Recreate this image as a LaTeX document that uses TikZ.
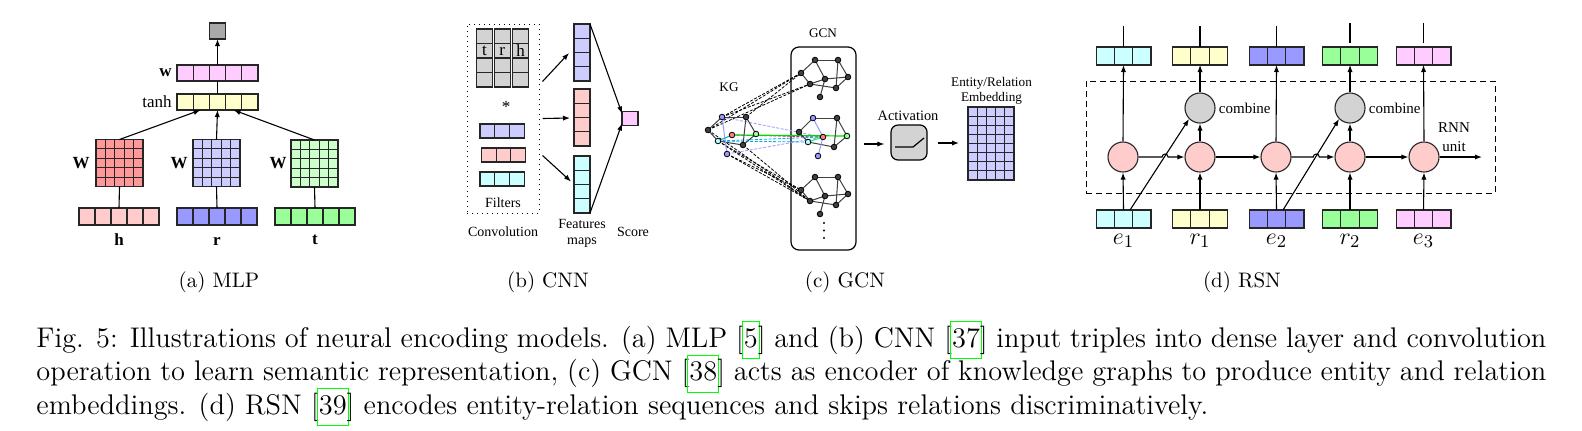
\documentclass[tikz,border=0pt]{standalone}
\usepackage{fontspec}
\usetikzlibrary{arrows.meta,calc}
\newfontfamily\tms{Liberation Serif}
\definecolor{outgray}{HTML}{A9A9A9}
\definecolor{pinkw}{HTML}{FFCCFF}
\definecolor{yell}{HTML}{FFFFCC}
\definecolor{redm}{HTML}{FF9999}
\definecolor{bluem}{HTML}{CCCCFF}
\definecolor{greenm}{HTML}{CCFFCC}
\definecolor{pinkh}{HTML}{FFCCCC}
\definecolor{bluer}{HTML}{9999FF}
\definecolor{greent}{HTML}{99FF99}
\definecolor{cyanc}{HTML}{CCFFFF}
\definecolor{lgray}{HTML}{D3D3D3}
\definecolor{gdark}{HTML}{404040}
\definecolor{gblue}{HTML}{9999FF}
\definecolor{gred}{HTML}{FF8080}
\definecolor{ggreen}{HTML}{99FF99}
\definecolor{gcyan}{HTML}{AFFFFF}
\definecolor{lkgreen}{HTML}{00FF00}
\newcommand{\lk}[1]{{\setlength\fboxsep{0.6pt}\setlength\fboxrule{0.45pt}\color{lkgreen}\kern-1.05pt\fbox{\color{black}\strut #1}\kern-1.05pt}}
\newcommand{\cellgrid}[8]{%
  \node[cellbox, fill=#8, minimum width=#4*#6*0.5pt, minimum height=#5*#7*0.5pt] (#1) at (#2,#3) {};
  \foreach \i in {1,...,#4} \draw[cellline] ($(#1.north west)+(\i*#6,0)$) -- ($(#1.south west)+(\i*#6,0)$);
  \foreach \j in {1,...,#5} \draw[cellline] ($(#1.north west)+(0,\j*#7)$) -- ($(#1.north east)+(0,\j*#7)$);
}
\tikzset{
  cellbox/.style={draw=black!85, line width=0.55pt, inner sep=0, outer sep=0, rectangle},
  cellline/.style={draw=black!85, line width=0.55pt},
  arr/.style={-{Latex[length=3.5pt,width=2.6pt]}, line width=0.55pt},
  ln/.style={line width=0.55pt},
  mlpl/.style={font=\tms\fontsize{8.5}{9}\selectfont, inner sep=0},
  cnnl/.style={font=\tms\fontsize{7}{8}\selectfont, inner sep=0, align=center},
  gl/.style={font=\tms\fontsize{6.6}{7.4}\selectfont, inner sep=0, align=center},
  rl/.style={font=\tms\fontsize{7.5}{9.5}\selectfont, inner sep=0, align=center},
  ml/.style={font=\fontsize{13}{13}\selectfont, inner sep=0},
  subcap/.style={font=\fontsize{10.5}{12}\selectfont, inner sep=0},
  capt/.style={font=\fontsize{14.2}{16.75}\selectfont, inner sep=0},
  gnode/.style={circle, draw=black, line width=0.4pt, fill=gdark, inner sep=0, minimum size=2.8pt},
  gedge/.style={draw=black!75, line width=0.5pt},
  kgdash/.style={dashed, dash pattern=on 1.5pt off 0.8pt, line width=0.4pt},
  rnnc/.style={circle, draw=black!85, line width=0.55pt, fill=pinkh, inner sep=0, minimum size=15pt},
  combc/.style={circle, draw=black!85, line width=0.55pt, fill=lgray, inner sep=0, minimum size=15pt}
}
\begin{document}
\begin{tikzpicture}[x=0.5pt,y=-0.5pt]
\useasboundingbox (0,0) rectangle (1582,430);

% ================= (a) MLP =================
\cellgrid{out}{217.5}{31}{1}{1}{16}{16}{outgray}
\cellgrid{wrow}{217.5}{73}{5}{1}{16.2}{16}{pinkw}
\cellgrid{tanhrow}{217.5}{102}{5}{1}{16.2}{16}{yell}
\cellgrid{Wr}{119.5}{163}{5}{5}{9.4}{9.4}{redm}
\cellgrid{Wb}{216.5}{163}{5}{5}{9.4}{9.4}{bluem}
\cellgrid{Wg}{314.5}{163.5}{5}{5}{9.4}{9.4}{greenm}
\cellgrid{hrow}{119}{216.5}{5}{1}{16}{17}{pinkh}
\cellgrid{rrow}{217}{216.5}{5}{1}{16}{17}{bluer}
\cellgrid{trow}{315}{216.5}{5}{1}{16}{17}{greent}
\node[mlpl, anchor=east] (wlab) at (172,73) {\bfseries w};
\node[mlpl, anchor=east] (tanhlab) at (172,102) {tanh};
\node[mlpl, anchor=east] (Wrlab) at (90,163) {\bfseries W};
\node[mlpl, anchor=east] (Wblab) at (188,163) {\bfseries W};
\node[mlpl, anchor=east] (Wglab) at (287,163) {\bfseries W};
\node[mlpl] (hlab) at (119,240) {\bfseries h};
\node[mlpl] (rlab) at (217,241) {\bfseries r};
\node[mlpl] (tlab) at (315,240) {\bfseries t};
\draw[ln] (tanhrow.north) -- (wrow.south);
\draw[arr] (wrow.north) -- (out.south);
\draw[arr] (Wr.north) -- ([xshift=-8.5pt]tanhrow.south);
\draw[arr] (Wb.north) -- (tanhrow.south);
\draw[arr] (Wg.north) -- ([xshift=8pt]tanhrow.south);
\draw[ln] (Wr.south) -- (hrow.north);
\draw[ln] (Wb.south) -- (rrow.north);
\draw[ln] (Wg.south) -- (trow.north);

% ================= (b) CNN =================
\node[draw, dotted, line width=0.5pt, minimum width=36pt, minimum height=94.5pt, inner sep=0] (convbox) at (503,118.5) {};
\cellgrid{gc1}{484.5}{58}{1}{4}{15.7}{14.5}{lgray}
\cellgrid{gc2}{502.2}{58}{1}{4}{15.7}{14.5}{lgray}
\cellgrid{gc3}{520.5}{58}{1}{4}{15.7}{14.5}{lgray}
\node[mlpl] (lt) at (484.5,51) {t};
\node[mlpl] (lr) at (502.2,51) {r};
\node[mlpl] (lh) at (520.5,51) {h};
\node[mlpl] (star) at (506,107) {*};
\cellgrid{fb}{502}{131}{3}{1}{14.7}{14}{bluem}
\cellgrid{fr}{503.5}{155}{3}{1}{14.7}{14}{pinkh}
\cellgrid{fc}{502}{179}{3}{1}{14.7}{14}{cyanc}
\node[cnnl] (filt) at (503,203) {Filters};
\node[cnnl] (convl) at (503,232) {Convolution};
\cellgrid{fm1}{582}{52.5}{1}{4}{16}{14.25}{bluem}
\cellgrid{fm2}{582}{117.5}{1}{4}{16}{14.25}{pinkh}
\cellgrid{fm3}{582}{184.5}{1}{4}{16}{14.25}{cyanc}
\node[cnnl] (fml) at (582,233) {Features\\maps};
\cellgrid{score}{630}{118.5}{1}{1}{16}{14}{pinkw}
\node[cnnl] (scl) at (633,232) {Score};
\draw[arr] ($(convbox.east)+(3,-37)$) -- ($(fm1.west)+(-5,0.5)$);
\draw[arr] ($(convbox.east)+(3,0)$) -- ($(fm2.west)+(-4,0.5)$);
\draw[arr] ($(convbox.east)+(3,37)$) -- ($(fm3.west)+(-3,-3)$);
\draw[arr] (fm1.north east) -- ($(score.west)+(0,-5)$);
\draw[arr] (fm3.south east) -- ($(score.west)+(0,5)$);

% ================= (c) GCN =================
\node[draw, rounded corners=4pt, line width=0.6pt, minimum width=32.5pt, minimum height=101.5pt, inner sep=0] (gcnbox) at (823.5,148.5) {};
\node[gl] (gcnl) at (823,33) {GCN};
\node[gl] (kgl) at (729,87) {KG};
% KG coordinates
\coordinate (ka) at (708,130);
\coordinate (kb) at (722,117);
\coordinate (kc) at (746,117);
\coordinate (kd) at (732,135);
\coordinate (ke) at (756,134);
\coordinate (kf) at (718,141);
\coordinate (kg) at (743,145);
\coordinate (kh) at (727,154);
% GCN graph coordinates
\foreach \p/\dy in {t/0, b/117} {
  \foreach \n/\x/\y in {1/801/73, 2/815/60, 3/838/60, 4/848/77, 5/825/79, 6/810/84, 7/836/88, 8/820/97}
    \coordinate (\p\n) at (\x,\y+\dy);
}
\foreach \n/\x/\y in {1/799/132, 2/813/118, 3/837/118, 4/847/136, 5/823/137, 6/808/142, 7/834/147, 8/818/156}
  \coordinate (m\n) at (\x,\y);
% dashed links
\foreach \s/\t in {ka/t1, kb/t1, kc/t1, ka/t6, kb/t6}
  \draw[kgdash] (\s) -- (\t);
\foreach \s/\t in {ka/b6, kf/b6, kh/b6, kg/b6, kf/b1, kh/b1}
  \draw[kgdash] (\s) -- (\t);
\draw[kgdash, color=gblue] (kb) -- (m5);
\draw[kgdash, color=gblue] (kh) -- (m5);
\draw[kgdash, color=magenta] (kd) -- (m5);
\draw[kgdash, color=cyan] (kf) -- (m5);
\draw[kgdash, color=cyan] (kf) -- (m6);
\draw[line width=0.6pt, color=green!85!black] (kd) -- (m4);
% graph edges
\foreach \s/\t in {ka/kb, kb/kc, kc/ke, kc/kg, ke/kg, kg/kf, kf/ka}
  \draw[gedge] (\s) -- (\t);
\draw[gedge, color=gblue] (kb) -- (kh);
\draw[gedge, color=cyan!70!green] (kf) -- (kd);
\foreach \p in {t, b}
  \foreach \s/\t in {1/2, 2/3, 3/4, 1/6, 6/5, 5/4, 3/7, 7/4, 6/7, 5/8, 2/5}
    \draw[gedge] (\p\s) -- (\p\t);
\foreach \s/\t in {1/2, 2/3, 3/4, 3/7, 4/7, 1/6, 6/7}
  \draw[gedge] (m\s) -- (m\t);
\draw[gedge, color=gblue] (m2) -- (m5) -- (m8);
\draw[gedge, color=green!70!cyan] (m6) -- (m5);
% graph nodes
\foreach \n/\c in {ka/gdark, kb/gblue, kc/gdark, kd/gred, ke/ggreen, kf/gcyan, kg/gdark, kh/gblue}
  \node[gnode, fill=\c] (\n n) at (\n) {};
\foreach \p in {t, b}
  \foreach \n in {1,...,8}
    \node[gnode] (\p\n n) at (\p\n) {};
\foreach \n/\c in {1/gdark, 2/gblue, 3/gdark, 4/ggreen, 5/gred, 6/gcyan, 7/gdark, 8/gblue}
  \node[gnode, fill=\c] (m\n n) at (m\n) {};
\foreach \yy in {223, 230.5, 238}
  \fill (824,\yy) circle[radius=0.6pt];
% activation
\node[draw, fill=lgray, rounded corners=3.5pt, line width=0.6pt, minimum width=18pt, minimum height=17.5pt, inner sep=0] (act) at (909,142.5) {};
\draw[line width=0.6pt] ($(act)+(-14,4.5)$) -- ++(18,0) -- ++(11,-9);
\node[gl, font=\tms\fontsize{7.2}{8}\selectfont] (actl) at (908,116) {Activation};
\cellgrid{emb}{991}{143.5}{5}{8}{9.2}{9.125}{bluem}
\node[gl] (embl) at (991.5,91) {Entity/Relation\\Embedding};
\draw[arr] ($(gcnbox.east)+(7,-4.5)$) -- ($(act.west)+(-6,1.5)$);
\draw[arr] ($(act.east)+(10,0.5)$) -- ($(emb.west)+(-9,-0.5)$);

% ================= (d) RSN =================
\node[draw, dashed, dash pattern=on 3pt off 2pt, line width=0.5pt, minimum width=204.5pt, minimum height=56pt, inner sep=0] (rnnbox) at (1290.5,137) {};
\foreach \n/\x/\c in {1/1123.5/cyanc, 2/1200/yell, 3/1276.5/bluer, 4/1350/greent, 5/1423.5/pinkw} {
  \cellgrid{top\n}{\x}{56}{3}{1}{18.3}{18}{\c}
  \cellgrid{bot\n}{\x}{219}{3}{1}{18.3}{18}{\c}
}
\foreach \n/\x in {1/1123, 2/1200, 3/1276, 4/1350, 5/1424}
  \node[rnnc] (rnn\n) at (\x,157) {};
\node[combc] (comb1) at (1200,108) {};
\node[combc] (comb2) at (1350,108) {};
\node[rl, anchor=west] (cl1) at ([xshift=1.5pt]comb1.east) {combine};
\node[rl, anchor=west] (cl2) at ([xshift=1.5pt]comb2.east) {combine};
\node[rl] (rnnl) at (1454,137) {RNN\\unit};
\coordinate (rnnout) at (1482,157);
\foreach \n in {1,...,5} \draw[arr] (bot\n.north) -- (rnn\n.south);
\draw[arr] (rnn1.east) -- ++(23.5,0) arc[start angle=180, end angle=360, radius=3] -- (rnn2.west);
\draw[arr] (rnn2.east) -- (rnn3.west);
\draw[arr] (rnn3.east) -- ++(21.7,0) arc[start angle=180, end angle=360, radius=3] -- (rnn4.west);
\draw[arr] (rnn4.east) -- (rnn5.west);
\draw[arr] (rnn5.east) -- (rnnout);
\draw[arr] ([xshift=3.25pt]bot1.north) -- (comb1.south west);
\draw[arr] ([xshift=3.25pt]bot3.north) -- (comb2.south west);
\draw[arr] (rnn1.north) -- (top1.south);
\draw[arr] (rnn2.north) -- (comb1.south);
\draw[arr] (comb1.north) -- (top2.south);
\draw[arr] (rnn3.north) -- (top3.south);
\draw[arr] (rnn4.north) -- (comb2.south);
\draw[arr] (comb2.north) -- (top4.south);
\draw[arr] (rnn5.north) -- (top5.south);
\foreach \n in {1,2,3} \draw[ln] (top\n.north) -- ++(0,-21);
\foreach \n in {4,5} \draw[ln] ($(top\n.north)+(0,-4)$) -- ++(0,-20);
\node[ml] (le1) at (1123.5,241) {$e_1$};
\node[ml] (lr1) at (1200,241) {$r_1$};
\node[ml] (le2) at (1276.5,241) {$e_2$};
\node[ml] (lr2) at (1350,241) {$r_2$};
\node[ml] (le3) at (1423.5,241) {$e_3$};

% ================= captions =================
\node[subcap] (sa) at (219,282) {(a) MLP};
\node[subcap] (sb) at (548,282) {(b) CNN};
\node[subcap] (sc) at (845,282) {(c) GCN};
\node[subcap] (sd) at (1242,282) {(d) RSN};
\node[capt, anchor=base west] (cap1) at (36,347) {\makebox[755pt][s]{Fig. 5: Illustrations of neural encoding models. (a) MLP [\lk{5}] and (b) CNN [\lk{37}] input triples into dense layer and convolution}};
\node[capt, anchor=base west] (cap2) at (36,380.5) {\makebox[755pt][s]{operation to learn semantic representation, (c) GCN [\lk{38}] acts as encoder of knowledge graphs to produce entity and relation}};
\node[capt, anchor=base west] (cap3) at (36,414) {embeddings. (d) RSN [\lk{39}] encodes entity-relation sequences and skips relations discriminatively.};
\end{tikzpicture}
\end{document}
